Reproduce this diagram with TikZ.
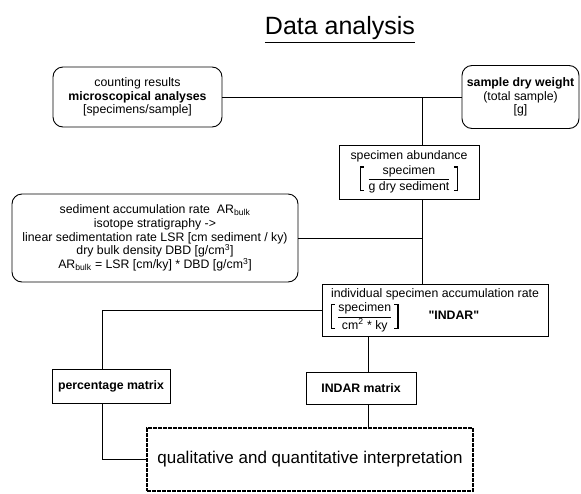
\documentclass[tikz,border=0pt]{standalone}
\usepackage{amsmath}
\usepackage{fontspec}
\setmainfont{Liberation Sans}
\newcommand{\brkL}{\vrule width 1.2pt height 16pt depth 9pt\vrule width 3pt height 16pt depth -14.8pt\kern-3pt\vrule width 3pt height -7.8pt depth 9pt}
\newcommand{\brkR}{\vrule width 3pt height 16pt depth -14.8pt\kern-3pt\vrule width 3pt height -7.8pt depth 9pt\vrule width 1.2pt height 16pt depth 9pt}

\begin{document}
\begin{tikzpicture}[
  x=1pt, y=-1pt,
  srcbox/.style={
    rectangle, rounded corners=10pt, draw, line width=0.9pt,
    align=center, inner sep=2pt,
    font=\fontsize{12.3}{13.8}\selectfont
  },
  stepbox/.style={
    rectangle, draw, line width=0.8pt, align=center, inner sep=2pt,
    font=\fontsize{12.3}{13.8}\selectfont
  },
  resultbox/.style={
    rectangle, draw, line width=2.4pt, dash pattern=on 4pt off 1pt,
    font=\fontsize{17}{19}\selectfont
  },
  link/.style={line width=0.8pt},
]
\useasboundingbox (0,0) rectangle (581,493);

\def\colJ{422}
\def\colP{102}
\def\colM{368}

% Title
\node[anchor=base, font=\fontsize{25}{28}\selectfont] (title) at (340, 34) {\underline{Data analysis}};

% Input boxes
\node[srcbox, minimum width=169pt, minimum height=60pt] (count) at (137.5, 97)
  {counting results\\\textbf{microscopical analyses}\\{}[specimens/sample]};
\node[srcbox, minimum width=117pt, minimum height=63pt] (weight) at (520.5, 97)
  {\textbf{sample dry weight}\\(total sample)\\{}[g]};

\coordinate (jA) at (\colJ, 97);

% Abundance
\node[stepbox, minimum width=140pt, minimum height=54pt] (abund) at (409, 172)
  {specimen abundance\\[2pt]$\brkL\;\dfrac{\text{specimen}}{\text{g dry sediment}}\;\brkR$};

% Sediment accumulation rate
\node[srcbox, minimum width=286pt, minimum height=88pt] (sedim) at (155, 238)
  {sediment accumulation rate\ \ AR\textsubscript{bulk}\\
   isotope stratigraphy ->\\
   linear sedimentation rate LSR [cm sediment / ky)\\
   dry bulk density DBD [g/cm\textsuperscript{3}]\\
   AR\textsubscript{bulk} = LSR [cm/ky] * DBD [g/cm\textsuperscript{3}]};

% Individual accumulation rate
\node[stepbox, align=left, inner sep=3pt, minimum width=226pt, minimum height=52pt] (rate) at (435, 310)
  {individual specimen accumulation rate\\[2pt]
   $\brkL\,\dfrac{\text{specimen}}{\text{cm\textsuperscript{2} * ky}}\,\brkR$\hspace{30pt}\textbf{\textquotedbl INDAR\textquotedbl}};

\coordinate (jB) at (\colP, 310);

% Matrices
\node[stepbox, minimum width=118pt, minimum height=34pt] (pct) at (111, 386) {\textbf{percentage matrix}};
\node[stepbox, minimum width=110pt, minimum height=32pt] (mat) at (361, 388) {\textbf{INDAR matrix}};

% Interpretation
\node[resultbox, minimum width=326pt, minimum height=63pt] (interp) at (310, 459.5)
  {qualitative and quantitative interpretation};

% Connectors
\draw[link] (count) -- (weight);
\draw[link] (jA) -- (jA |- abund.north);
\draw[link] (jA |- abund.south) -- (jA |- rate.north);
\draw[link] (sedim) -- (sedim -| jA);
\draw[link] (rate) -- (jB) -- (jB |- pct.north);
\draw[link] (jB |- pct.south) |- (interp);
\draw[link] (\colM, 0 |- rate.south) -- (\colM, 0 |- mat.north);
\draw[link] (\colM, 0 |- mat.south) -- (\colM, 0 |- interp.north);

\end{tikzpicture}
\end{document}
